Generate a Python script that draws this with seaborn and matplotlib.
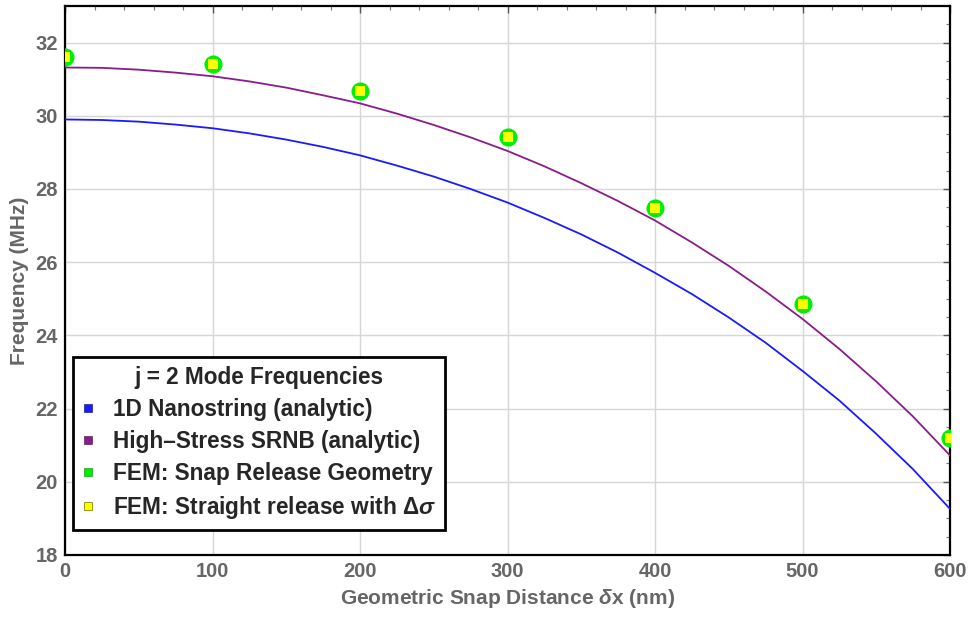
import matplotlib
matplotlib.use("Agg")
import matplotlib.pyplot as plt
from matplotlib.lines import Line2D
from matplotlib.ticker import MultipleLocator
import seaborn as sns
import pandas as pd

# ---- data ----
x_curve = [0, 25, 50, 75, 100, 125, 150, 175, 200, 225, 250, 275, 300,
           325, 350, 375, 400, 425, 450, 475, 500, 525, 550, 575, 600]
nanostring = [29.90, 29.885, 29.84, 29.76, 29.66, 29.52, 29.35, 29.15, 28.92, 28.64,
              28.34, 28.00, 27.63, 27.21, 26.76, 26.26, 25.71, 25.13, 24.49, 23.80,
              23.03, 22.22, 21.31, 20.34, 19.26]
srnb = [31.32, 31.31, 31.26, 31.18, 31.08, 30.94, 30.77, 30.56, 30.34, 30.06,
        29.75, 29.41, 29.04, 28.62, 28.16, 27.67, 27.14, 26.54, 25.90, 25.20,
        24.45, 23.63, 22.74, 21.78, 20.72]

x_fem = [0, 100, 200, 300, 400, 500, 600]
fem_snap = [31.62, 31.42, 30.67, 29.41, 27.48, 24.86, 21.20]
fem_straight = [31.62, 31.42, 30.67, 29.41, 27.48, 24.86, 21.20]

labels = ["1D Nanostring (analytic)", "High\u2013Stress SRNB (analytic)",
          "FEM: Snap Release Geometry", "FEM: Straight release with \u0394$\\sigma$"]
legend_title = "j = 2 Mode Frequencies"
x_ticks = [0, 100, 200, 300, 400, 500, 600]
y_ticks = [18, 20, 22, 24, 26, 28, 30, 32]

# ---- style ----
sns.set_theme(style="white")
plt.rcParams["font.family"] = ["Liberation Sans", "DejaVu Sans"]
plt.rcParams["mathtext.fontset"] = "custom"
plt.rcParams["mathtext.rm"] = "Liberation Sans:bold"
plt.rcParams["mathtext.it"] = "Liberation Sans:italic:bold"
plt.rcParams["mathtext.bf"] = "Liberation Sans:bold"

BLUE = "#1a1aff"
PURPLE = "#8b1a8b"
GREEN = "#00ee00"
YELLOW = "#ffff00"
GRAY = "#666666"

fig = plt.figure(figsize=(9.71, 6.18), dpi=100)
ax = fig.add_axes([65 / 971, 1 - 555 / 618, 885 / 971, 549 / 618])

df_curve = pd.DataFrame({"x": x_curve, "nano": nanostring, "srnb": srnb})
df_fem = pd.DataFrame({"x": x_fem, "snap": fem_snap, "straight": fem_straight})

sns.lineplot(data=df_curve, x="x", y="nano", ax=ax, color=BLUE, lw=1.3, zorder=3)
sns.lineplot(data=df_curve, x="x", y="srnb", ax=ax, color=PURPLE, lw=1.3, zorder=3)
sns.scatterplot(data=df_fem, x="x", y="snap", ax=ax, color=GREEN, s=170,
                marker="o", linewidth=0, zorder=4)
sns.scatterplot(data=df_fem, x="x", y="straight", ax=ax, color=YELLOW, s=60,
                marker="s", linewidth=0, zorder=5)

ax.set_xlim(0, 600)
ax.set_ylim(18, 33)
ax.set_xticks(x_ticks)
ax.set_yticks(y_ticks)
ax.xaxis.set_minor_locator(MultipleLocator(20))
ax.yaxis.set_minor_locator(MultipleLocator(0.5))
ax.grid(True, which="major", color="#d6d6d6", lw=1.0)
ax.set_axisbelow(True)

for sp in ax.spines.values():
    sp.set_color("black")
    sp.set_linewidth(1.6)

ax.tick_params(which="major", direction="in", length=5, width=1, colors="#555555",
               top=True, right=True, labelcolor=GRAY, labelsize=14.5, pad=5)
ax.tick_params(which="minor", direction="in", length=3, width=0.8, colors="#777777",
               top=True, right=True)
for lab in ax.get_xticklabels() + ax.get_yticklabels():
    lab.set_fontweight("bold")

ax.set_xlabel("Geometric Snap Distance $\\delta$x (nm)", fontsize=15,
              fontweight="bold", color=GRAY, labelpad=4)
ax.set_ylabel("Frequency (MHz)", fontsize=15, fontweight="bold", color=GRAY, labelpad=5)

handles = [
    Line2D([], [], ls="none", marker="s", ms=5.5, mfc=BLUE, mec="#000088", mew=0.4),
    Line2D([], [], ls="none", marker="s", ms=5.5, mfc=PURPLE, mec="#400040", mew=0.4),
    Line2D([], [], ls="none", marker="s", ms=5.5, mfc=GREEN, mec="#008800", mew=0.4),
    Line2D([], [], ls="none", marker="s", ms=5.5, mfc=YELLOW, mec="#888800", mew=0.6),
]
leg = ax.legend(handles, labels, title=legend_title, loc="lower left",
                bbox_to_anchor=(0.009, 0.045), borderaxespad=0,
                frameon=True, fancybox=False, framealpha=1,
                prop={"size": 16.3, "weight": "bold"},
                title_fontproperties={"size": 16.3, "weight": "bold"},
                handlelength=0.5, handletextpad=0.85, labelspacing=0.4,
                borderpad=0.4)
leg.get_frame().set_edgecolor("black")
leg.get_frame().set_linewidth(2.0)
leg.set_zorder(10)

fig.savefig("out.png", dpi=100)
